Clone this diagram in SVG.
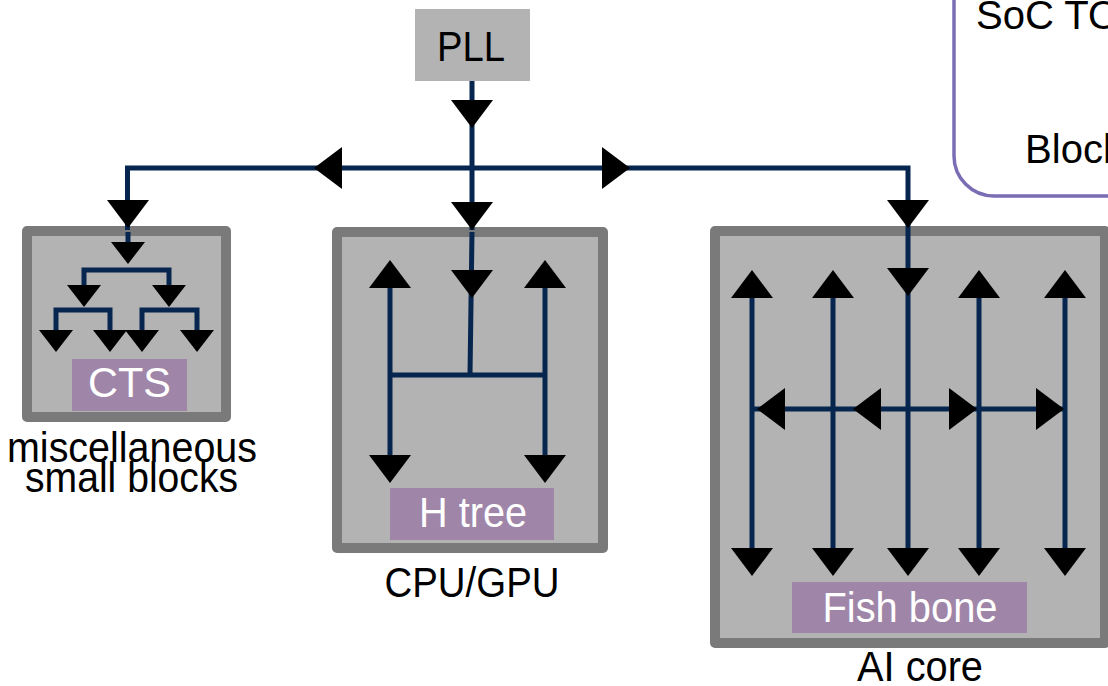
<svg xmlns="http://www.w3.org/2000/svg" width="1108" height="686" viewBox="0 0 1108 686">
  <style>
    .blk { fill: #b3b3b3; stroke: #7a7a7a; stroke-width: 10; stroke-linejoin: round; }
    .tag { fill: #9f86a8; }
    .wire { fill: none; stroke: #06264f; stroke-width: 5; stroke-linejoin: miter; stroke-linecap: butt; }
    .lbl { font-family: "Liberation Sans", Arial, sans-serif; font-size: 42px; fill: #000; text-anchor: middle; }
    .lbl-w { font-family: "Liberation Sans", Arial, sans-serif; font-size: 42px; fill: #fff; text-anchor: middle; }
    .lbl-l { font-family: "Liberation Sans", Arial, sans-serif; font-size: 40px; fill: #000; }
    .head { fill: #000; }
  </style>
  <defs>
    <!-- arrowheads point down with the tip at the origin -->
    <path id="ah" class="head" d="M-21,-28 L21,-28 L0,0 Z"/>
    <path id="ahs" class="head" d="M-17,-22 L17,-22 L0,0 Z"/>
  </defs>

  <rect width="1108" height="686" fill="#fff"/>

  <!-- top-level legend frame -->
  <g id="soc-top">
    <rect x="954" y="-80" width="320" height="276" rx="40" ry="40" fill="#fff" stroke="#7b6db4" stroke-width="3.5"/>
    <text class="lbl-l" x="976" y="29" textLength="170" lengthAdjust="spacingAndGlyphs">SoC TOP</text>
    <text class="lbl-l" x="1025" y="163" textLength="98" lengthAdjust="spacingAndGlyphs">Block</text>
  </g>

  <g id="pll">
    <rect x="415" y="9" width="115" height="72" fill="#b3b3b3"/>
    <text class="lbl" x="471" y="61" textLength="68" lengthAdjust="spacingAndGlyphs">PLL</text>
  </g>

  <g id="misc-blocks">
    <rect class="blk" x="27" y="231" width="199" height="186"/>
    <rect class="tag" x="72" y="359" width="115" height="52"/>
    <text class="lbl-w" x="129.5" y="397" textLength="83" lengthAdjust="spacingAndGlyphs">CTS</text>
    <text class="lbl" x="132" y="462" textLength="250" lengthAdjust="spacingAndGlyphs">miscellaneous</text>
    <text class="lbl" x="131.5" y="492" textLength="213" lengthAdjust="spacingAndGlyphs">small blocks</text>
  </g>

  <g id="cpu-gpu">
    <rect class="blk" x="337" y="232" width="266" height="316"/>
    <rect class="tag" x="390" y="488" width="164" height="52"/>
    <text class="lbl-w" x="473" y="527" textLength="108" lengthAdjust="spacingAndGlyphs">H tree</text>
    <text class="lbl" x="472" y="597" textLength="175" lengthAdjust="spacingAndGlyphs">CPU/GPU</text>
  </g>

  <g id="ai-core">
    <rect class="blk" x="715" y="231" width="390" height="412"/>
    <rect class="tag" x="792" y="582" width="235" height="51"/>
    <text class="lbl-w" x="910" y="622" textLength="175" lengthAdjust="spacingAndGlyphs">Fish bone</text>
    <text class="lbl" x="920" y="681" textLength="126" lengthAdjust="spacingAndGlyphs">AI core</text>
  </g>

  <g id="connectors">
    <!-- global clock distribution -->
    <path class="wire" d="M472,81 V230"/>
    <path class="wire" d="M127.5,230 V168 H908 V560"/>
    <use href="#ah" transform="translate(472,128)"/>
    <use href="#ah" transform="translate(472,230)"/>
    <use href="#ah" transform="translate(128,228)"/>
    <use href="#ah" transform="translate(908,228)"/>
    <use href="#ah" transform="translate(314,168) rotate(90)"/>
    <use href="#ah" transform="translate(630,168) rotate(-90)"/>

    <!-- CTS inside the small blocks -->
    <path class="wire" d="M128,232 V250"/>
    <use href="#ahs" transform="translate(128,264)"/>
    <path class="wire" d="M84,290 V270 H169 V290"/>
    <use href="#ahs" transform="translate(84,307)"/>
    <use href="#ahs" transform="translate(169,307)"/>
    <path class="wire" d="M56,334 V310 H110 V334"/>
    <path class="wire" d="M142,334 V310 H197 V334"/>
    <use href="#ahs" transform="translate(56,352)"/>
    <use href="#ahs" transform="translate(110,352)"/>
    <use href="#ahs" transform="translate(142,352)"/>
    <use href="#ahs" transform="translate(197,352)"/>

    <!-- H tree -->
    <path class="wire" d="M472,232 L470,375"/>
    <path class="wire" d="M390,270 V470 M545,270 V470 M390,375 H545"/>
    <use href="#ah" transform="translate(472,298)"/>
    <use href="#ah" transform="translate(390,260) rotate(180)"/>
    <use href="#ah" transform="translate(545,260) rotate(180)"/>
    <use href="#ah" transform="translate(390,483)"/>
    <use href="#ah" transform="translate(545,483)"/>

    <!-- fish bone -->
    <path class="wire" d="M752,285 V560 M833,285 V560 M979,285 V560 M1065,285 V560 M752,409 H1065"/>
    <use href="#ah" transform="translate(908,296)"/>
    <use href="#ah" transform="translate(752,270) rotate(180)"/>
    <use href="#ah" transform="translate(833,270) rotate(180)"/>
    <use href="#ah" transform="translate(979,270) rotate(180)"/>
    <use href="#ah" transform="translate(1065,270) rotate(180)"/>
    <use href="#ah" transform="translate(752,576)"/>
    <use href="#ah" transform="translate(833,576)"/>
    <use href="#ah" transform="translate(908,576)"/>
    <use href="#ah" transform="translate(979,576)"/>
    <use href="#ah" transform="translate(1065,576)"/>
    <use href="#ah" transform="translate(757,409) rotate(90)"/>
    <use href="#ah" transform="translate(853,409) rotate(90)"/>
    <use href="#ah" transform="translate(977,409) rotate(-90)"/>
    <use href="#ah" transform="translate(1064,409) rotate(-90)"/>
  </g>
</svg>
